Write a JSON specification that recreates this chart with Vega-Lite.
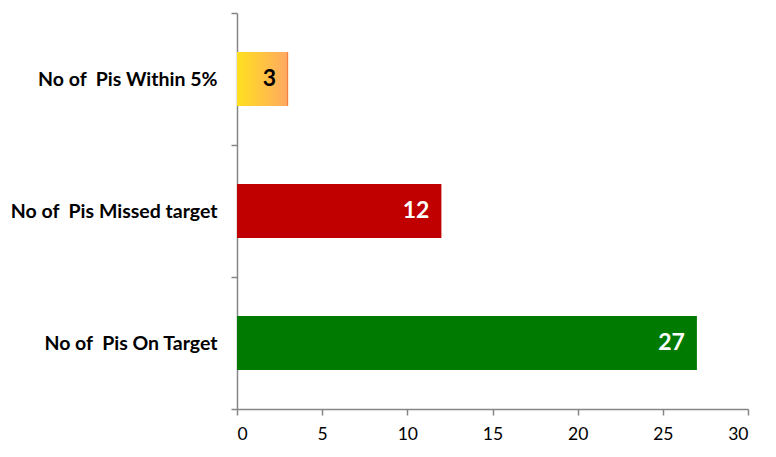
{
  "$schema": "https://vega.github.io/schema/vega-lite/v6.json",
  "autosize": {"type": "none"},
  "width": 511,
  "height": 396,
  "padding": {"left": 237, "top": 13, "right": 28, "bottom": 48},
  "background": "white",
  "config": {"view": {"stroke": null}},
  "data": {"values": [
    {"cat": "No of\u00a0 Pis Within 5%", "n": 3, "key": "within"},
    {"cat": "No of\u00a0 Pis Missed target", "n": 12, "key": "missed"},
    {"cat": "No of\u00a0 Pis On Target", "n": 27, "key": "on"}
  ]},
  "encoding": {
    "y": {"field": "cat", "type": "nominal", "sort": null,
      "scale": {"paddingInner": 0, "paddingOuter": 0},
      "axis": {"title": null, "tickBand": "extent", "domainColor": "#868686", "domainWidth": 1.5,
        "tickColor": "#868686", "tickWidth": 1.5, "tickSize": 6, "labelPadding": 14,
        "labelFont": "Lato", "labelFontWeight": "bold", "labelFontSize": 19.5, "labelColor": "#000000", "labelLimit": 300}},
    "x": {"field": "n", "type": "quantitative",
      "scale": {"domain": [0, 30], "nice": false},
      "axis": {"title": null, "values": [0, 5, 10, 15, 20, 25, 30], "grid": false,
        "domainColor": "#868686", "domainWidth": 1.5, "tickColor": "#868686", "tickWidth": 1.5, "tickSize": 6,
        "labelPadding": 10, "labelFont": "Lato", "labelFontSize": 17.5, "labelColor": "#000000"}}
  },
  "layer": [
    {
      "mark": {"type": "bar", "height": {"band": 0.41}},
      "encoding": {
        "color": {"field": "key", "type": "nominal", "legend": null,
          "scale": {"domain": ["within", "missed", "on"], "range": ["#FFD700", "#C00000", "#007A00"]}}
      }
    },
    {
      "transform": [{"filter": "datum.key == 'within'"}],
      "mark": {"type": "bar", "height": {"band": 0.41},
        "fill": {"gradient": "linear", "x1": 0, "x2": 1, "y1": 0, "y2": 0,
          "stops": [{"offset": 0, "color": "#FFE020"}, {"offset": 0.97, "color": "#FFAA60"}, {"offset": 1, "color": "#F06030"}]}}
    },
    {
      "mark": {"type": "text", "align": "right", "baseline": "middle", "dx": -12,
        "font": "Lato", "fontWeight": "bold", "fontSize": 23},
      "encoding": {
        "text": {"field": "n", "type": "quantitative"},
        "color": {"condition": {"test": "datum.key == 'within'", "value": "#000000"}, "value": "#FFFFFF"}
      }
    }
  ]
}
